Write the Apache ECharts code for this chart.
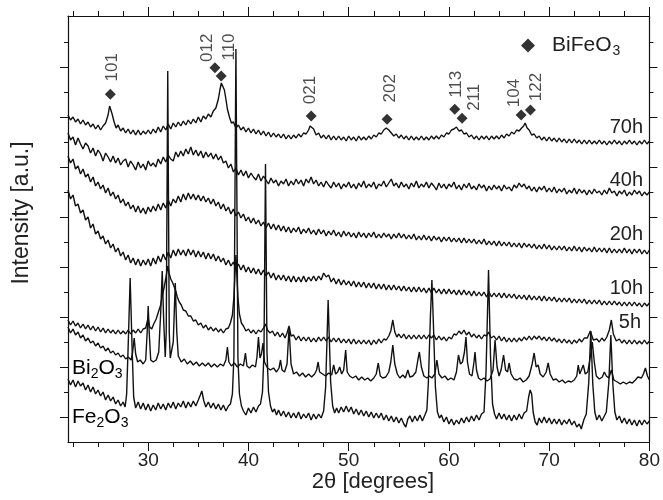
<!DOCTYPE html>
<html>
<head>
<meta charset="utf-8">
<script src="https://cdn.jsdelivr.net/npm/echarts@6/dist/echarts.min.js"></script>
<style>
html,body{margin:0;padding:0;background:#fff;}
#c{width:663px;height:500px;}
</style>
</head>
<body>
<div id="c"></div>
<script>
// ---- data: [2theta (deg), intensity (a.u., traces stacked)] ----
const h70 = [[22,327],[22.25,322],[22.5,325],[22.75,320],[23,323],[23.25,318],[23.5,322],[23.75,317],[24,320],[24.25,315],[24.5,318],[24.75,313],[25,317],[25.25,312],[25.5,316],[25.75,319],[26,327],[26.15,336],[26.25,338],[26.4,328],[26.6,320],[26.8,314],[27,317],[27.25,311],[27.5,314],[27.75,309],[28,313],[28.25,308],[28.5,312],[28.75,307],[29,312],[29.25,307],[29.5,311],[29.75,308],[30,312],[30.25,308],[30.5,313],[30.75,309],[31,315],[31.25,310],[31.5,316],[31.75,312],[32,318],[32.25,313],[32.5,319],[32.75,315],[33,320],[33.25,316],[33.5,321],[33.75,317],[34,322],[34.25,318],[34.5,323],[34.75,319],[35,325],[35.25,320],[35.5,326],[35.75,323],[36,328],[36.25,325],[36.5,331],[36.75,334],[37,343],[37.15,352],[37.3,359],[37.45,357],[37.6,352],[37.75,343],[37.9,333],[38.1,325],[38.3,319],[38.5,320],[38.75,314],[39,317],[39.25,312],[39.5,315],[39.75,310],[40,314],[40.25,309],[40.5,313],[40.75,308],[41,312],[41.25,307],[41.5,311],[41.75,306],[42,310],[42.25,305],[42.5,309],[42.75,305],[43,308],[43.25,304],[43.5,308],[43.75,303],[44,307],[44.25,303],[44.5,307],[44.75,304],[45,308],[45.25,305],[45.5,309],[45.75,308],[46,312],[46.15,316],[46.3,318],[46.5,313],[46.75,307],[47,309],[47.25,304],[47.5,307],[47.75,303],[48,307],[48.25,302],[48.5,306],[48.75,302],[49,306],[49.25,302],[49.5,305],[49.75,301],[50,306],[50.25,302],[50.5,305],[50.75,301],[51,306],[51.25,302],[51.5,305],[51.75,302],[52,306],[52.25,303],[52.5,307],[52.75,305],[53,309],[53.25,308],[53.5,312],[53.75,314],[54,312],[54.25,309],[54.5,306],[54.75,308],[55,304],[55.25,307],[55.5,303],[55.75,306],[56,302],[56.25,306],[56.5,302],[56.75,305],[57,302],[57.25,306],[57.5,302],[57.75,305],[58,302],[58.25,306],[58.5,303],[58.75,306],[59,303],[59.25,307],[59.5,305],[59.75,309],[60,308],[60.25,312],[60.5,313],[60.75,315],[61,311],[61.25,312],[61.5,308],[61.75,309],[62,305],[62.25,307],[62.5,303],[62.75,306],[63,302],[63.25,306],[63.5,303],[63.75,306],[64,302],[64.25,306],[64.5,303],[64.75,306],[65,303],[65.25,307],[65.5,304],[65.75,308],[66,306],[66.25,310],[66.5,308],[66.75,312],[67,311],[67.25,314],[67.45,316],[67.6,319],[67.8,314],[68,312],[68.25,307],[68.5,308],[68.75,304],[69,306],[69.25,302],[69.5,305],[69.75,301],[70,305],[70.25,301],[70.5,304],[70.75,300],[71,304],[71.25,300],[71.5,303],[71.75,299],[72,303],[72.25,299],[72.5,303],[72.75,299],[73,302],[73.25,298],[73.5,302],[73.75,298],[74,302],[74.25,298],[74.5,301],[74.75,298],[75,302],[75.25,298],[75.5,301],[75.75,297],[76,301],[76.25,298],[76.5,302],[76.75,298],[77,301],[77.25,297],[77.5,301],[77.75,298],[78,302],[78.25,298],[78.5,301],[78.75,297],[79,301],[79.25,298],[79.5,302],[79.75,298],[80,301]];

const h40 = [[22,309],[22.25,302],[22.5,305],[22.75,297],[23,304],[23.25,298],[23.5,293],[23.75,299],[24,296],[24.25,289],[24.5,294],[24.75,286],[25,292],[25.25,288],[25.5,281],[25.75,289],[26,285],[26.25,280],[26.5,286],[26.75,279],[27,284],[27.25,277],[27.5,281],[27.75,283],[28,275],[28.25,281],[28.5,277],[28.75,272],[29,280],[29.25,274],[29.5,278],[29.75,272],[30,281],[30.25,276],[30.5,279],[30.75,275],[31,283],[31.25,278],[31.5,285],[31.75,280],[32,287],[32.25,283],[32.5,281],[32.75,290],[33,285],[33.25,291],[33.5,286],[33.75,293],[34,288],[34.25,295],[34.5,287],[34.75,292],[35,286],[35.25,291],[35.5,284],[35.75,290],[36,285],[36.25,289],[36.5,283],[36.75,288],[37,282],[37.25,286],[37.5,279],[37.75,281],[38,274],[38.25,278],[38.5,270],[38.75,274],[39,267],[39.25,272],[39.5,266],[39.75,271],[40,264],[40.25,269],[40.5,265],[40.75,262],[41,268],[41.25,261],[41.5,266],[41.75,262],[42,258],[42.25,264],[42.5,259],[42.75,262],[43,256],[43.25,261],[43.5,258],[43.75,263],[44,256],[44.25,261],[44.5,257],[44.75,263],[45,258],[45.25,262],[45.5,256],[45.75,263],[46,259],[46.25,265],[46.5,258],[46.75,262],[47,256],[47.25,260],[47.5,255],[47.75,261],[48,257],[48.25,254],[48.5,260],[48.75,255],[49,259],[49.25,253],[49.5,258],[49.75,255],[50,260],[50.25,254],[50.5,258],[50.75,253],[51,259],[51.25,255],[51.5,261],[51.75,254],[52,258],[52.25,255],[52.5,260],[52.75,253],[53,258],[53.25,256],[53.5,261],[53.75,255],[54,259],[54.25,263],[54.5,256],[54.75,259],[55,254],[55.25,260],[55.5,255],[55.75,258],[56,253],[56.25,259],[56.5,255],[56.75,261],[57,254],[57.25,258],[57.5,255],[57.75,260],[58,254],[58.25,259],[58.5,256],[58.75,252],[59,259],[59.25,254],[59.5,258],[59.75,253],[60,258],[60.25,255],[60.5,260],[60.75,253],[61,257],[61.25,252],[61.5,258],[61.75,254],[62,259],[62.25,253],[62.5,256],[62.75,252],[63,258],[63.25,254],[63.5,257],[63.75,251],[64,256],[64.25,252],[64.5,257],[64.75,253],[65,256],[65.25,251],[65.5,257],[65.75,253],[66,255],[66.25,251],[66.5,257],[66.75,254],[67,259],[67.25,255],[67.5,258],[67.75,253],[68,256],[68.25,251],[68.5,255],[68.75,250],[69,255],[69.25,252],[69.5,256],[69.75,250],[70,254],[70.25,250],[70.5,255],[70.75,249],[71,253],[71.25,250],[71.5,254],[71.75,248],[72,252],[72.25,249],[72.5,254],[72.75,248],[73,253],[73.25,249],[73.5,252],[73.75,247],[74,252],[74.25,248],[74.5,253],[74.75,249],[75,251],[75.25,247],[75.5,252],[75.75,248],[76,254],[76.25,249],[76.5,251],[76.75,246],[77,251],[77.25,248],[77.5,252],[77.75,246],[78,250],[78.25,247],[78.5,252],[78.75,248],[79,251],[79.25,246],[79.5,250],[79.75,247],[80,250]];

const h20 = [[22,286],[22.25,279],[22.5,283],[22.75,273],[23,276],[23.25,268],[23.5,273],[23.75,265],[24,268],[24.25,260],[24.5,265],[24.75,256],[25,260],[25.25,253],[25.5,257],[25.75,249],[26,254],[26.25,246],[26.5,250],[26.75,243],[27,247],[27.25,239],[27.5,243],[27.75,236],[28,240],[28.25,233],[28.5,237],[28.75,230],[29,236],[29.25,229],[29.5,234],[29.75,228],[30,235],[30.25,230],[30.5,236],[30.75,231],[31,238],[31.25,232],[31.5,239],[31.75,234],[32,242],[32.25,236],[32.5,243],[32.75,239],[33,246],[33.25,240],[33.5,248],[33.75,242],[34,249],[34.25,243],[34.5,248],[34.75,242],[35,247],[35.25,241],[35.5,246],[35.75,240],[36,244],[36.25,238],[36.5,243],[36.75,236],[37,240],[37.25,233],[37.5,238],[37.75,231],[38,235],[38.25,228],[38.5,233],[38.75,226],[39,230],[39.25,224],[39.5,228],[39.75,221],[40,225],[40.25,219],[40.5,224],[40.75,218],[41,222],[41.25,216],[41.5,220],[41.75,214],[42,219],[42.25,213],[42.5,218],[42.75,212],[43,217],[43.25,211],[43.5,216],[43.75,210],[44,215],[44.25,209],[44.5,214],[44.75,210],[45,215],[45.25,208],[45.5,213],[45.75,209],[46,214],[46.25,208],[46.5,212],[46.75,207],[47,213],[47.25,208],[47.5,212],[47.75,206],[48,211],[48.25,207],[48.5,212],[48.75,206],[49,210],[49.25,205],[49.5,211],[49.75,206],[50,210],[50.25,205],[50.5,209],[50.75,204],[51,210],[51.25,205],[51.5,209],[51.75,204],[52,209],[52.25,205],[52.5,210],[52.75,204],[53,208],[53.25,204],[53.5,209],[53.75,205],[54,208],[54.25,203],[54.5,208],[54.75,204],[55,209],[55.25,204],[55.5,208],[55.75,203],[56,207],[56.25,203],[56.5,208],[56.75,202],[57,206],[57.25,202],[57.5,207],[57.75,202],[58,206],[58.25,201],[58.5,206],[58.75,202],[59,205],[59.25,200],[59.5,205],[59.75,201],[60,205],[60.25,200],[60.5,204],[60.75,200],[61,204],[61.25,199],[61.5,204],[61.75,199],[62,203],[62.25,199],[62.5,203],[62.75,198],[63,202],[63.25,198],[63.5,203],[63.75,197],[64,201],[64.25,197],[64.5,201],[64.75,196],[65,201],[65.25,196],[65.5,200],[65.75,196],[66,200],[66.25,195],[66.5,199],[66.75,195],[67,199],[67.25,194],[67.5,199],[67.75,195],[68,198],[68.25,194],[68.5,198],[68.75,193],[69,197],[69.25,193],[69.5,198],[69.75,193],[70,197],[70.25,192],[70.5,196],[70.75,192],[71,196],[71.25,192],[71.5,196],[71.75,191],[72,195],[72.25,191],[72.5,196],[72.75,191],[73,195],[73.25,190],[73.5,195],[73.75,191],[74,194],[74.25,190],[74.5,195],[74.75,190],[75,194],[75.25,190],[75.5,194],[75.75,189],[76,194],[76.25,189],[76.5,193],[76.75,189],[77,193],[77.25,189],[77.5,194],[77.75,189],[78,193],[78.25,188],[78.5,193],[78.75,189],[79,193],[79.25,188],[79.5,192],[79.75,188],[80,192]];

const h10 = [[22,252],[22.25,243],[22.5,247],[22.75,236],[23,238],[23.25,229],[23.5,232],[23.75,222],[24,225],[24.25,214],[24.5,218],[24.75,208],[25,211],[25.25,203],[25.5,206],[25.75,198],[26,202],[26.25,194],[26.5,198],[26.75,190],[27,194],[27.25,186],[27.5,190],[27.75,182],[28,187],[28.25,179],[28.5,184],[28.75,177],[29,183],[29.25,176],[29.5,182],[29.75,177],[30,183],[30.25,176],[30.5,184],[30.75,178],[31,186],[31.25,180],[31.5,188],[31.75,182],[32,190],[32.25,184],[32.5,192],[32.75,186],[33,193],[33.25,187],[33.5,192],[33.75,186],[34,193],[34.25,187],[34.5,192],[34.75,185],[35,191],[35.25,185],[35.5,190],[35.75,183],[36,189],[36.25,183],[36.5,188],[36.75,181],[37,186],[37.25,180],[37.5,184],[37.75,177],[38,182],[38.25,176],[38.5,180],[38.75,173],[39,178],[39.25,172],[39.5,177],[39.75,170],[40,175],[40.25,169],[40.5,174],[40.75,168],[41,173],[41.25,167],[41.5,172],[41.75,166],[42,170],[42.25,164],[42.5,169],[42.75,162],[43,167],[43.25,162],[43.5,167],[43.75,161],[44,166],[44.25,160],[44.5,166],[44.75,160],[45,165],[45.25,160],[45.5,166],[45.75,160],[46,165],[46.25,161],[46.5,166],[46.75,161],[47,166],[47.25,162],[47.5,169],[47.75,165],[48,167],[48.25,160],[48.5,164],[48.75,158],[49,163],[49.25,157],[49.5,162],[49.75,157],[50,161],[50.25,156],[50.5,161],[50.75,155],[51,160],[51.25,155],[51.5,160],[51.75,154],[52,159],[52.25,154],[52.5,159],[52.75,153],[53,158],[53.25,153],[53.5,158],[53.75,152],[54,157],[54.25,152],[54.5,157],[54.75,152],[55,156],[55.25,151],[55.5,156],[55.75,151],[56,155],[56.25,150],[56.5,155],[56.75,150],[57,155],[57.25,150],[57.5,154],[57.75,149],[58,154],[58.25,149],[58.5,154],[58.75,149],[59,153],[59.25,148],[59.5,153],[59.75,148],[60,153],[60.25,148],[60.5,152],[60.75,147],[61,152],[61.25,147],[61.5,152],[61.75,147],[62,151],[62.25,146],[62.5,151],[62.75,146],[63,150],[63.25,146],[63.5,150],[63.75,145],[64,150],[64.25,145],[64.5,149],[64.75,145],[65,149],[65.25,144],[65.5,149],[65.75,144],[66,148],[66.25,144],[66.5,148],[66.75,143],[67,147],[67.25,143],[67.5,147],[67.75,142],[68,147],[68.25,142],[68.5,146],[68.75,142],[69,146],[69.25,141],[69.5,146],[69.75,141],[70,145],[70.25,141],[70.5,145],[70.75,140],[71,144],[71.25,140],[71.5,144],[71.75,140],[72,144],[72.25,139],[72.5,143],[72.75,139],[73,143],[73.25,139],[73.5,143],[73.75,138],[74,142],[74.25,138],[74.5,142],[74.75,138],[75,142],[75.25,137],[75.5,141],[75.75,137],[76,141],[76.25,137],[76.5,141],[76.75,137],[77,140],[77.25,136],[77.5,140],[77.75,136],[78,140],[78.25,136],[78.5,140],[78.75,136],[79,139],[79.25,135],[79.5,139],[79.75,136],[80,139]];

const h5 = [[22,122],[22.25,117],[22.5,121],[22.75,116],[23,119],[23.25,114],[23.5,118],[23.75,113],[24,117],[24.25,112],[24.5,116],[24.75,111],[25,115],[25.25,110],[25.5,114],[25.75,109],[26,113],[26.25,109],[26.5,112],[26.75,108],[27,112],[27.25,108],[27.5,111],[27.75,108],[28,112],[28.25,108],[28.5,112],[28.75,109],[29,113],[29.25,109],[29.5,113],[29.75,114],[29.9,120],[30,124],[30.15,115],[30.35,113],[30.55,118],[30.8,123],[31.05,131],[31.25,137],[31.4,146],[31.6,155],[31.8,166],[31.95,176],[32.1,168],[32.25,163],[32.45,159],[32.6,155],[32.75,151],[32.9,145],[33.1,140],[33.3,137],[33.5,132],[33.75,131],[34,126],[34.25,126],[34.5,121],[34.75,122],[35,117],[35.25,119],[35.5,114],[35.75,117],[36,112],[36.25,115],[36.5,111],[36.75,114],[37,110],[37.25,113],[37.5,109],[37.75,113],[38,114],[38.2,119],[38.4,127],[38.55,145],[38.75,187],[38.95,145],[39.1,128],[39.3,119],[39.5,116],[39.75,111],[40,113],[40.25,109],[40.5,112],[40.75,108],[41,112],[41.25,110],[41.5,114],[41.7,118],[41.9,112],[42.15,109],[42.4,111],[42.65,106],[42.9,110],[43.15,105],[43.4,109],[43.65,104],[43.85,109],[44.05,116],[44.25,106],[44.5,107],[44.75,102],[45,106],[45.25,101],[45.5,105],[45.75,101],[46,105],[46.25,100],[46.5,104],[46.75,100],[47,105],[47.25,101],[47.5,105],[47.75,101],[48,105],[48.25,100],[48.5,104],[48.75,100],[49,104],[49.25,99],[49.5,103],[49.75,99],[50,103],[50.25,98],[50.5,103],[50.75,98],[51,102],[51.25,98],[51.5,102],[51.75,98],[52,102],[52.25,97],[52.5,102],[52.75,98],[53,103],[53.25,99],[53.5,103],[53.75,102],[54,106],[54.2,111],[54.4,122],[54.6,110],[54.8,105],[55,108],[55.25,104],[55.5,108],[55.75,103],[56,107],[56.25,103],[56.5,107],[56.75,103],[57,107],[57.25,103],[57.5,107],[57.75,103],[58,107],[58.25,104],[58.5,107],[58.75,102],[59,106],[59.25,102],[59.5,105],[59.75,101],[60,105],[60.25,103],[60.5,108],[60.75,107],[61,111],[61.25,108],[61.5,112],[61.75,107],[62,110],[62.25,105],[62.5,108],[62.75,104],[63,107],[63.25,103],[63.5,107],[63.75,106],[63.95,110],[64.2,104],[64.5,106],[64.75,102],[65,106],[65.25,101],[65.5,105],[65.75,100],[66,104],[66.25,100],[66.5,104],[66.75,100],[67,104],[67.25,101],[67.5,105],[67.75,102],[68,106],[68.25,102],[68.5,106],[68.75,103],[69,106],[69.25,102],[69.5,105],[69.75,101],[70,105],[70.25,101],[70.5,104],[70.75,100],[71,103],[71.25,99],[71.5,103],[71.75,99],[72,102],[72.25,98],[72.5,102],[72.75,99],[73,103],[73.25,100],[73.5,104],[73.8,104],[74.1,111],[74.4,102],[74.75,103],[75,100],[75.25,104],[75.5,101],[75.75,105],[76,112],[76.2,122],[76.4,108],[76.7,101],[77,103],[77.25,99],[77.5,102],[77.75,98],[78,102],[78.25,98],[78.5,102],[78.75,98],[79,101],[79.25,98],[79.5,102],[79.75,98],[80,101]];

const bi2o3 = [[22,115],[22.25,109],[22.5,113],[22.75,107],[23,110],[23.25,104],[23.5,107],[23.75,101],[24,104],[24.25,99],[24.5,101],[24.75,96],[25,99],[25.25,94],[25.5,96],[25.75,91],[26,94],[26.25,89],[26.5,91],[26.75,87],[27,89],[27.25,85],[27.5,87],[27.75,83],[28,85],[28.3,82],[28.45,90],[28.6,104],[28.75,88],[28.95,80],[29.2,82],[29.5,78],[29.75,82],[29.9,110],[30,136],[30.1,110],[30.25,82],[30.5,80],[30.8,82],[31.05,90],[31.25,130],[31.4,171],[31.55,120],[31.7,85],[31.8,110],[31.95,371],[32.1,110],[32.2,84],[32.35,82],[32.5,100],[32.7,159],[32.85,110],[33,86],[33.3,80],[33.6,83],[33.9,78],[34.2,81],[34.5,77],[34.8,80],[35.1,76],[35.4,79],[35.7,76],[36,79],[36.3,75],[36.6,78],[36.9,75],[37.2,78],[37.5,76],[37.75,82],[37.9,95],[38.05,80],[38.3,76],[38.6,79],[38.9,75],[39.2,78],[39.5,76],[39.7,89],[39.85,76],[40.1,74],[40.4,77],[40.7,75],[40.85,85],[41,105],[41.15,84],[41.3,88],[41.45,99],[41.6,80],[41.9,74],[42.2,72],[42.5,74],[42.8,70],[43.05,74],[43.2,82],[43.35,72],[43.6,70],[43.85,78],[44.05,114],[44.25,78],[44.5,68],[44.8,70],[45.1,66],[45.4,69],[45.7,65],[46,68],[46.3,65],[46.6,68],[46.8,72],[46.95,80],[47.1,70],[47.4,68],[47.7,66],[48,69],[48.3,67],[48.5,77],[48.7,68],[48.9,70],[49.1,75],[49.3,68],[49.5,72],[49.7,92],[49.85,70],[50.1,66],[50.4,64],[50.7,66],[51,62],[51.3,65],[51.6,62],[51.9,64],[52.2,61],[52.5,64],[52.75,68],[52.95,79],[53.15,66],[53.4,64],[53.7,65],[54,70],[54.2,80],[54.4,97],[54.6,78],[54.85,68],[55.1,64],[55.4,67],[55.65,64],[55.9,72],[56.1,65],[56.4,66],[56.7,70],[56.9,82],[57.05,90],[57.25,75],[57.5,66],[57.8,64],[58.05,66],[58.3,64],[58.6,68],[58.8,82],[59,68],[59.3,64],[59.6,66],[59.9,62],[60.2,64],[60.5,62],[60.75,70],[60.95,87],[61.15,78],[61.35,80],[61.55,90],[61.7,105],[61.85,80],[62.05,68],[62.3,66],[62.5,80],[62.6,90],[62.75,72],[62.95,64],[63.2,62],[63.5,64],[63.8,61],[64.1,63],[64.4,72],[64.6,102],[64.8,75],[65,66],[65.2,72],[65.45,87],[65.65,72],[65.85,70],[66,79],[66.2,68],[66.5,63],[66.8,62],[67.1,64],[67.4,60],[67.7,62],[68,66],[68.3,78],[68.5,89],[68.7,75],[68.9,77],[69.1,68],[69.4,65],[69.7,70],[69.9,79],[70.1,68],[70.4,62],[70.7,63],[71,60],[71.3,62],[71.6,59],[71.9,61],[72.2,60],[72.5,62],[72.75,66],[72.9,77],[73.05,68],[73.2,69],[73.4,77],[73.6,68],[73.85,70],[74.1,85],[74.3,100],[74.5,80],[74.7,66],[75,63],[75.3,65],[75.5,70],[75.7,66],[75.95,64],[76.2,72],[76.45,62],[76.8,60],[77.1,58],[77.4,60],[77.7,58],[78,60],[78.3,59],[78.6,62],[78.85,65],[79,66],[79.2,64],[79.4,68],[79.6,74],[79.8,66],[80,62]];

const fe2o3 = [[22,63],[22.25,57],[22.5,62],[22.75,55],[23,61],[23.25,56],[23.5,59],[23.75,52],[24,57],[24.25,50],[24.5,55],[24.75,48],[25,52],[25.25,46],[25.5,50],[25.75,42],[26,47],[26.25,41],[26.5,45],[26.75,38],[27,42],[27.25,36],[27.5,40],[27.7,35],[27.85,48],[28,95],[28.2,164],[28.4,92],[28.55,45],[28.75,34],[29,40],[29.25,33],[29.5,39],[29.75,32],[30,38],[30.25,31],[30.5,37],[30.75,32],[31,39],[31.25,33],[31.5,38],[31.75,32],[32,39],[32.25,34],[32.5,40],[32.75,33],[33,39],[33.25,35],[33.5,41],[33.75,34],[34,40],[34.25,35],[34.5,41],[34.75,36],[35,42],[35.2,47],[35.35,51],[35.55,41],[35.75,35],[36,40],[36.25,34],[36.5,39],[36.75,33],[37,38],[37.25,32],[37.5,37],[37.75,31],[38,36],[38.2,38],[38.4,48],[38.55,85],[38.75,393],[38.95,85],[39.1,48],[39.3,36],[39.5,31],[39.75,27],[40,34],[40.25,29],[40.5,35],[40.75,30],[41,36],[41.2,38],[41.4,50],[41.55,90],[41.7,278],[41.85,90],[42,50],[42.2,36],[42.4,30],[42.6,33],[42.8,27],[43,32],[43.25,26],[43.5,31],[43.75,25],[44,30],[44.25,24],[44.5,29],[44.75,24],[45,30],[45.25,23],[45.5,28],[45.75,24],[46,29],[46.25,22],[46.5,28],[46.75,23],[47,28],[47.25,24],[47.5,31],[47.7,55],[47.95,142],[48.2,60],[48.4,36],[48.6,29],[48.8,34],[49,29],[49.25,35],[49.5,30],[49.75,36],[50,30],[50.25,35],[50.5,28],[50.75,33],[51,27],[51.25,32],[51.5,26],[51.75,31],[52,25],[52.25,30],[52.5,24],[52.75,29],[53,24],[53.25,29],[53.5,22],[53.75,27],[54,21],[54.25,26],[54.5,20],[54.75,25],[55,19],[55.25,24],[55.5,18],[55.7,15],[55.9,23],[56.1,26],[56.35,20],[56.6,26],[56.85,21],[57.1,27],[57.35,21],[57.6,27],[57.8,32],[57.95,60],[58.15,125],[58.3,162],[58.45,118],[58.65,55],[58.85,30],[59.05,24],[59.25,27],[59.5,20],[59.75,25],[60,18],[60.25,23],[60.5,17],[60.75,22],[61,18],[61.25,24],[61.5,19],[61.75,25],[62,20],[62.25,26],[62.5,21],[62.75,27],[63,22],[63.25,28],[63.5,30],[63.7,70],[63.95,172],[64.15,85],[64.35,38],[64.55,28],[64.75,23],[65,29],[65.25,23],[65.5,28],[65.75,22],[66,27],[66.25,21],[66.5,27],[66.75,22],[67,28],[67.25,23],[67.5,29],[67.75,31],[67.95,45],[68.1,52],[68.25,48],[68.4,30],[68.6,20],[68.8,17],[69,24],[69.25,19],[69.5,25],[69.75,19],[70,24],[70.25,18],[70.5,23],[70.75,18],[71,23],[71.25,17],[71.5,22],[71.75,18],[72,23],[72.25,17],[72.5,21],[72.75,15],[73,18],[73.2,13],[73.45,22],[73.7,28],[73.95,60],[74.15,111],[74.35,58],[74.55,30],[74.75,22],[75,27],[75.25,21],[75.5,26],[75.7,30],[75.95,60],[76.15,107],[76.35,58],[76.55,30],[76.75,22],[77,26],[77.25,19],[77.5,24],[77.75,18],[78,23],[78.25,17],[78.5,22],[78.75,16],[79,22],[79.25,17],[79.5,22],[79.75,18],[80,21]];

// BiFeO3 reflections: marker positions and Miller indices
const hkl = ['101','012','110','021','202','113','211','104','122'];
const peakPos = [26.22, 36.66, 37.28, 46.26, 53.83, 60.58, 61.31, 67.20, 68.13];
const peakMark = [347.7, 374.3, 366.0, 326.0, 322.7, 332.7, 323.7, 327.0, 332.0];

// axis ticks
const xLabels = [30, 40, 50, 60, 70, 80];
const xMinorTicks = [22.5,25,27.5,30,32.5,35,37.5,40,42.5,45,47.5,50,52.5,55,57.5,60,62.5,65,67.5,70,72.5,75,77.5,80];
const yMinorTicks = [25,50,75,100,125,150,175,200,225,250,275,300,325,350,375,400];
const yMajorTicks = [25,75,125,175,225,275,325,375];

// ---- styling ----
const FONT = "'Liberation Sans', Arial, Helvetica, sans-serif";
const INK = '#111';
// label offsets in the rotated label frame
const labelOffsets = [[27,2],[20,-8],[29,8],[26,-1],[31,3],[25,2],[21,12],[22,-7],[23,6]];

function lineSeries(name, data) {
  return {
    name: name, type: 'line', data: data, showSymbol: false, symbol: 'none',
    lineStyle: { color: INK, width: 1.4 }, itemStyle: { color: INK },
    clip: true, silent: true, z: 3, animation: false
  };
}
function xAx(pos, withLine, ticks, len, labels) {
  return {
    type: 'value', min: 22, max: 80, position: pos,
    axisLine: { show: withLine, onZero: false, lineStyle: { color: INK, width: 1.2 } },
    axisTick: { show: true, inside: false, length: len, customValues: ticks, lineStyle: { color: INK, width: 1 } },
    axisLabel: labels ? { show: true, customValues: labels, fontSize: 19, color: '#222', fontFamily: FONT, margin: 9 } : { show: false },
    splitLine: { show: false }
  };
}
function yAx(pos, withLine, ticks, len) {
  return {
    type: 'value', min: 0, max: 426, position: pos,
    axisLine: { show: withLine, onZero: false, lineStyle: { color: INK, width: 1.2 } },
    axisTick: { show: true, inside: false, length: len, customValues: ticks, lineStyle: { color: INK, width: 1 } },
    axisLabel: { show: false },
    splitLine: { show: false }
  };
}

const markData = peakPos.map((p, i) => ({
  value: [p, peakMark[i]],
  label: { offset: labelOffsets[i], formatter: hkl[i] }
}));

const subRich = function (size) {
  return {
    n: { fontSize: size, fontFamily: FONT, color: '#222' },
    s: { fontSize: 14, fontFamily: FONT, color: '#222', padding: [12, 0, 0, 0] }
  };
};

const chart = echarts.init(document.getElementById('c'), null, { renderer: 'canvas' });
chart.setOption({
  animation: false,
  backgroundColor: '#fff',
  grid: { left: 68, right: 12, top: 16, bottom: 58, containLabel: false },
  xAxis: [
    xAx('bottom', true, xMinorTicks, 5, xLabels),
    xAx('bottom', false, xLabels, 9, null),
    xAx('top', true, xMinorTicks, 5, null),
    xAx('top', false, xLabels, 9, null)
  ],
  yAxis: [
    yAx('left', true, yMinorTicks, 4),
    yAx('left', false, yMajorTicks, 8),
    yAx('right', true, yMinorTicks, 4),
    yAx('right', false, yMajorTicks, 8)
  ],
  legend: {
    show: true, left: 516, top: 30, itemWidth: 14, itemHeight: 14,
    data: [{ name: 'BiFeO3', icon: 'diamond' }],
    formatter: function () { return '{n|BiFeO}{s|3}'; },
    textStyle: {
      color: '#222', fontFamily: FONT, fontSize: 21,
      rich: {
        n: { fontSize: 21, fontFamily: FONT, color: '#222', padding: [0, 0, 0, 12] },
        s: { fontSize: 14, fontFamily: FONT, color: '#222', padding: [12, 0, 0, 1] }
      }
    }
  },
  series: [
    lineSeries('70h', h70),
    lineSeries('40h', h40),
    lineSeries('20h', h20),
    lineSeries('10h', h10),
    lineSeries('5h', h5),
    lineSeries('Bi2O3', bi2o3),
    lineSeries('Fe2O3', fe2o3),
    {
      name: 'BiFeO3', type: 'scatter', symbol: 'diamond', symbolSize: 11,
      itemStyle: { color: '#000' }, z: 5, silent: true,
      label: { show: true, position: 'inside', rotate: 90, fontSize: 17, fontFamily: FONT, color: '#222', align: 'center', verticalAlign: 'middle' },
      data: markData
    }
  ],
  graphic: [
    { type: 'text', x: 373, y: 482, style: { text: '2\u03b8 [degrees]', font: '22px ' + FONT, fill: '#222', align: 'center', verticalAlign: 'middle' } },
    { type: 'text', x: 22, y: 213, rotation: Math.PI / 2, style: { text: 'Intensity [a.u.]', font: '23px ' + FONT, fill: '#222', align: 'center', verticalAlign: 'middle' } },
    { type: 'text', x: 643, y: 127, style: { text: '70h', font: '20px ' + FONT, fill: '#222', align: 'right', verticalAlign: 'middle' } },
    { type: 'text', x: 643, y: 180, style: { text: '40h', font: '20px ' + FONT, fill: '#222', align: 'right', verticalAlign: 'middle' } },
    { type: 'text', x: 643, y: 234, style: { text: '20h', font: '20px ' + FONT, fill: '#222', align: 'right', verticalAlign: 'middle' } },
    { type: 'text', x: 643, y: 288, style: { text: '10h', font: '20px ' + FONT, fill: '#222', align: 'right', verticalAlign: 'middle' } },
    { type: 'text', x: 641, y: 322, style: { text: '5h', font: '20px ' + FONT, fill: '#222', align: 'right', verticalAlign: 'middle' } },
    { type: 'text', x: 72, y: 368, style: { text: '{n|Bi}{s|2}{n|O}{s|3}', align: 'left', verticalAlign: 'middle', rich: subRich(21) } },
    { type: 'text', x: 72, y: 417, style: { text: '{n|Fe}{s|2}{n|O}{s|3}', align: 'left', verticalAlign: 'middle', rich: subRich(21) } }
  ]
});
</script>
</body>
</html>
